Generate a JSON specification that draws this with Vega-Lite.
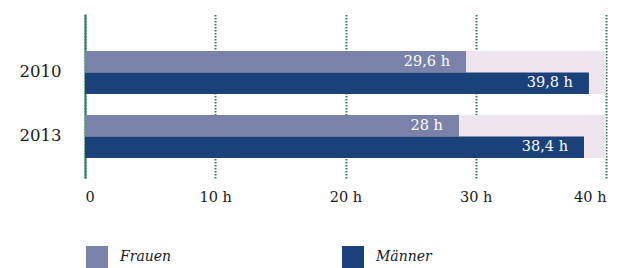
{
  "$schema": "https://vega.github.io/schema/vega-lite/v6.json",
  "width": 521,
  "height": 164,
  "autosize": {"type": "none"},
  "padding": {"left": 85, "top": 14, "right": 24, "bottom": 90},
  "background": "white",
  "config": {
    "view": {"stroke": null},
    "font": "DejaVu Serif",
    "axisX": {
      "title": null,
      "grid": true,
      "gridColor": "#2e7d5b",
      "gridDash": [1.5, 1.5],
      "gridWidth": 2,
      "domain": false,
      "ticks": false,
      "labelFont": "DejaVu Serif",
      "labelFontSize": 14.5,
      "labelColor": "#1a1a1a",
      "labelPadding": 12
    },
    "axisY": {
      "title": null,
      "ticks": false,
      "grid": false,
      "domain": true,
      "domainColor": "#2e7d5b",
      "domainWidth": 2,
      "labelFont": "DejaVu Serif",
      "labelFontSize": 16.5,
      "labelColor": "#1a1a1a",
      "labelPadding": 24,
      "zindex": 1
    },
    "legend": {
      "orient": "none",
      "legendX": 1,
      "legendY": 232,
      "direction": "horizontal",
      "padding": 0,
      "symbolType": "square",
      "symbolSize": 484,
      "symbolStrokeWidth": 0,
      "labelFont": "DejaVu Serif",
      "labelFontStyle": "italic",
      "labelFontSize": 14,
      "labelOffset": 12,
      "labelColor": "#1a1a1a",
      "columnPadding": 170
    }
  },
  "data": {
    "values": [
      {"year": "2010", "sex": "Frauen", "value": 29.25, "label": "29,6 h"},
      {"year": "2010", "sex": "Männer", "value": 38.69, "label": "39,8 h"},
      {"year": "2013", "sex": "Frauen", "value": 28.71, "label": "28 h"},
      {"year": "2013", "sex": "Männer", "value": 38.31, "label": "38,4 h"}
    ]
  },
  "encoding": {
    "y": {
      "field": "year",
      "type": "nominal",
      "scale": {"domain": ["2010", "2013"], "paddingInner": 0.328, "paddingOuter": 0.445, "align": 0.649}
    }
  },
  "layer": [
    {
      "mark": {"type": "bar", "color": "#efe5ef"},
      "encoding": {
        "x": {
          "datum": 40,
          "type": "quantitative",
          "scale": {"domain": [0, 40], "nice": false},
          "axis": {
            "values": [0, 10, 20, 30, 40],
            "labelExpr": "datum.value === 0 ? '0' : datum.value + ' h'"
          }
        }
      }
    },
    {
      "mark": {"type": "bar"},
      "encoding": {
        "x": {"field": "value", "type": "quantitative"},
        "yOffset": {"field": "sex", "type": "nominal", "scale": {"domain": ["Frauen", "Männer"], "paddingInner": 0, "paddingOuter": 0}},
        "color": {
          "field": "sex",
          "type": "nominal",
          "scale": {"domain": ["Frauen", "Männer"], "range": ["#7b82a9", "#1a4179"]},
          "legend": {"title": null}
        }
      }
    },
    {
      "mark": {"type": "text", "align": "right", "baseline": "middle", "dx": -16, "color": "white", "font": "DejaVu Serif", "fontSize": 14.5},
      "encoding": {
        "x": {"field": "value", "type": "quantitative"},
        "yOffset": {"field": "sex", "type": "nominal"},
        "text": {"field": "label"}
      }
    }
  ]
}
